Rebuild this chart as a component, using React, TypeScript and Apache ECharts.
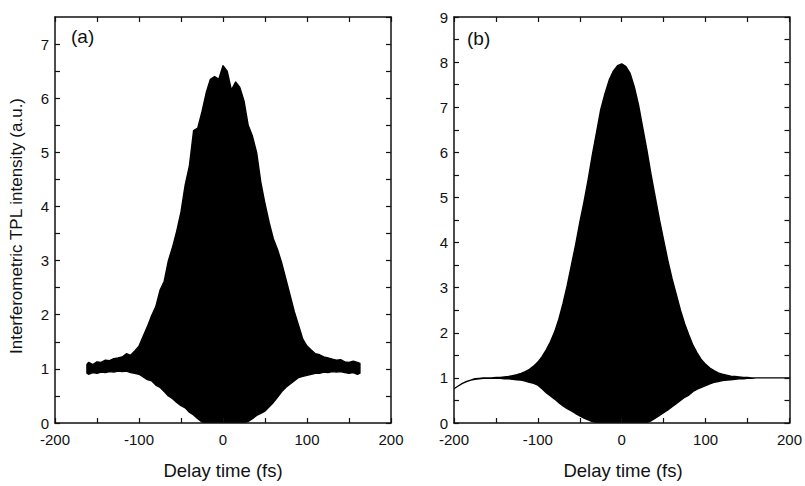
import React, { useEffect, useRef } from "react";
import * as echarts from "echarts";

// Panel (a): measured interferometric TPL trace (upper / lower fringe envelopes)
const delayA = [
  -162, -160, -155, -150, -145, -140, -135, -130, -125, -120, -115, -110, -105, -100,
  -95, -90, -85, -80, -75, -70, -65, -60, -55, -50, -45, -40, -35, -30, -25, -20,
  -15, -10, -5, 0, 5, 10, 15, 20, 25, 30, 35, 40, 45, 50, 55, 60, 65, 70, 75, 80,
  85, 90, 95, 100, 105, 110, 115, 120, 125, 130, 135, 140, 145, 150, 155, 160, 163,
];
const upperA = [
  1.08, 1.12, 1.08, 1.13, 1.12, 1.16, 1.15, 1.19, 1.2, 1.22, 1.28, 1.25, 1.33, 1.42,
  1.6, 1.78, 1.98, 2.15, 2.45, 2.62, 3.0, 3.25, 3.55, 3.9, 4.4, 4.75, 5.4, 5.45, 5.75, 6.1,
  6.35, 6.4, 6.35, 6.6, 6.5, 6.15, 6.3, 6.2, 5.95, 5.5, 5.3, 5.0, 4.45, 4.05, 3.7, 3.4, 3.2, 2.95, 2.65, 2.35,
  2.05, 1.8, 1.55, 1.42, 1.35, 1.28, 1.26, 1.22, 1.2, 1.18, 1.16, 1.17, 1.13, 1.12, 1.14, 1.12, 1.1,
];
const lowerA = [
  0.92, 0.9, 0.93, 0.92, 0.94, 0.93, 0.95, 0.94, 0.96, 0.95, 0.96, 0.93, 0.92, 0.9,
  0.85, 0.8, 0.78, 0.7, 0.66, 0.58, 0.5, 0.45, 0.38, 0.32, 0.28, 0.2, 0.15, 0.08, 0.02, 0,
  0, 0, 0, 0, 0, 0, 0, 0, 0, 0.03, 0.08, 0.14, 0.18, 0.22, 0.3, 0.38, 0.48, 0.58, 0.66, 0.72,
  0.78, 0.84, 0.86, 0.88, 0.9, 0.92, 0.92, 0.94, 0.93, 0.95, 0.94, 0.95, 0.93, 0.92, 0.93, 0.9, 0.92,
];

// Panel (b): calculated trace
const delayB = [
  -200, -195, -190, -185, -180, -175, -170, -165, -160, -155, -150, -145, -140, -135, -130,
  -125, -120, -115, -110, -105, -100, -95, -90, -85, -80, -75, -70, -65, -60, -55, -50,
  -45, -40, -35, -30, -25, -20, -15, -10, -5, 0, 5, 10, 15, 20, 25, 30, 35, 40, 45, 50,
  55, 60, 65, 70, 75, 80, 85, 90, 95, 100, 105, 110, 115, 120, 125, 130, 135, 140, 145, 150,
  155, 160, 165, 170, 175, 180, 185, 190, 195, 200,
];
const upperB = [
  0.76, 0.82, 0.88, 0.92, 0.95, 0.98, 0.99, 1.0, 1.0, 1.0, 1.01, 1.01, 1.02, 1.03, 1.05,
  1.07, 1.1, 1.14, 1.19, 1.26, 1.35, 1.47, 1.62, 1.8, 2.02, 2.3, 2.65, 3.05, 3.5, 3.95, 4.45,
  4.9, 5.4, 5.95, 6.45, 6.95, 7.3, 7.6, 7.8, 7.92, 7.96, 7.9, 7.75, 7.45, 7.05, 6.55, 6.05, 5.5, 5.0, 4.5, 4.05,
  3.6, 3.2, 2.85, 2.5, 2.2, 1.95, 1.72, 1.55, 1.4, 1.3, 1.22, 1.16, 1.11, 1.08, 1.06, 1.04, 1.03, 1.02, 1.01, 1.01,
  1.0, 1.0, 1.0, 1.0, 1.0, 1.0, 1.0, 1.0, 1.0, 1.0,
];
const lowerB = [
  0.76, 0.82, 0.88, 0.92, 0.95, 0.97, 0.98, 0.99, 0.99, 0.99, 0.99, 0.99, 0.98, 0.98, 0.97,
  0.96, 0.95, 0.93, 0.9, 0.88, 0.84, 0.76, 0.67, 0.6, 0.53, 0.45, 0.38, 0.32, 0.27, 0.21, 0.16,
  0.11, 0.07, 0.03, 0.01, 0, 0, 0, 0, 0, 0, 0, 0, 0, 0, 0, 0.01, 0.05, 0.11, 0.17, 0.23,
  0.29, 0.36, 0.43, 0.5, 0.57, 0.62, 0.7, 0.75, 0.79, 0.83, 0.87, 0.9, 0.92, 0.94, 0.95, 0.96, 0.97, 0.98, 0.98, 0.99,
  0.99, 1.0, 1.0, 1.0, 1.0, 1.0, 1.0, 1.0, 1.0, 1.0,
];

const xTicks = [-200, -100, 0, 100, 200];
const panelLabels = ["(a)", "(b)"];
const xTitle = "Delay time (fs)";
const yTitle = "Interferometric TPL intensity (a.u.)";

const FONT = "'Liberation Sans', Arial, Helvetica, sans-serif";
const INK = "#111";

function App() {
  const ref = useRef<HTMLDivElement>(null);

  useEffect(() => {
    if (!ref.current) return;
    const chart = echarts.init(ref.current, undefined, { renderer: "svg" });

    const grids = [
      { left: 55, top: 17, width: 336, height: 406 },
      { left: 454, top: 17, width: 337, height: 406 },
    ];
    const yMax = [7.5, 9];

    const axisLine = { show: true, onZero: false, lineStyle: { color: INK, width: 1.5 } };
    const tick = { show: true, inside: true, length: 5, lineStyle: { color: INK, width: 1.2 } };

    const xAxes: any[] = [];
    const yAxes: any[] = [];
    grids.forEach((_, g) => {
      xAxes.push({
        type: "value", gridIndex: g, position: "bottom", min: -200, max: 200, interval: 50, z: 10,
        axisLine, axisTick: tick, splitLine: { show: false },
        axisLabel: {
          show: true, margin: 9, color: INK, fontSize: 15, fontFamily: FONT,
          showMinLabel: true, showMaxLabel: true,
          formatter: (v: number) => (xTicks.includes(v) ? String(v) : ""),
        },
      });
      xAxes.push({
        type: "value", gridIndex: g, position: "top", min: -200, max: 200, interval: 50, z: 10,
        axisLine, axisTick: tick, splitLine: { show: false }, axisLabel: { show: false },
      });
      yAxes.push({
        type: "value", gridIndex: g, position: "left", min: 0, max: yMax[g], interval: 0.5, z: 10,
        axisLine, axisTick: tick, splitLine: { show: false },
        axisLabel: {
          show: true, margin: 6, color: INK, fontSize: 15, fontFamily: FONT,
          showMinLabel: true, showMaxLabel: g === 1,
          formatter: (v: number) => (Number.isInteger(v) ? String(v) : ""),
        },
      });
      yAxes.push({
        type: "value", gridIndex: g, position: "right", min: 0, max: yMax[g], interval: 0.5, z: 10,
        axisLine, axisTick: tick, splitLine: { show: false }, axisLabel: { show: false },
      });
    });

    // Band between lower and upper fringe envelopes, drawn as one polygon
    const band = (g: number, xs: number[], lo: number[], hi: number[]) => {
      const rows = xs.map((x, i) => [x, lo[i], hi[i]]);
      return {
        type: "custom",
        xAxisIndex: g * 2,
        yAxisIndex: g * 2,
        silent: true,
        clip: true,
        z: 3,
        encode: { x: 0, y: [1, 2] },
        data: rows,
        renderItem: (params: any, api: any) => {
          if (params.dataIndex !== 0) return null;
          const top = rows.map((r) => api.coord([r[0], r[2]]));
          const bottom = rows.map((r) => api.coord([r[0], r[1]])).reverse();
          return {
            type: "polygon",
            shape: { points: [...top, ...bottom] },
            style: { fill: "#000", stroke: "#000", lineWidth: 1.4, lineJoin: "round" },
          };
        },
      };
    };

    chart.setOption({
      animation: false,
      backgroundColor: "#fff",
      grid: grids.map((g) => ({ ...g, containLabel: false })),
      xAxis: xAxes,
      yAxis: yAxes,
      series: [band(0, delayA, lowerA, upperA), band(1, delayB, lowerB, upperB)],
      graphic: [
        { type: "text", left: 71, top: 27, style: { text: panelLabels[0], fontSize: 19, fontFamily: FONT, fill: INK } },
        { type: "text", left: 467, top: 29, style: { text: panelLabels[1], fontSize: 19, fontFamily: FONT, fill: INK } },
        { type: "text", x: 223, y: 470, style: { text: xTitle, fontSize: 18.5, fontFamily: FONT, fill: INK, align: "center", verticalAlign: "middle" } },
        { type: "text", x: 623, y: 470, style: { text: xTitle, fontSize: 18.5, fontFamily: FONT, fill: INK, align: "center", verticalAlign: "middle" } },
        {
          type: "text", x: 16, y: 226, rotation: Math.PI / 2,
          style: { text: yTitle, fontSize: 17, fontFamily: FONT, fill: INK, align: "center", verticalAlign: "middle" },
        },
      ],
    });

    return () => chart.dispose();
  }, []);

  return <div ref={ref} style={{ width: 805, height: 486, position: "absolute", left: 0, top: 0 }} />;
}

export default App;
